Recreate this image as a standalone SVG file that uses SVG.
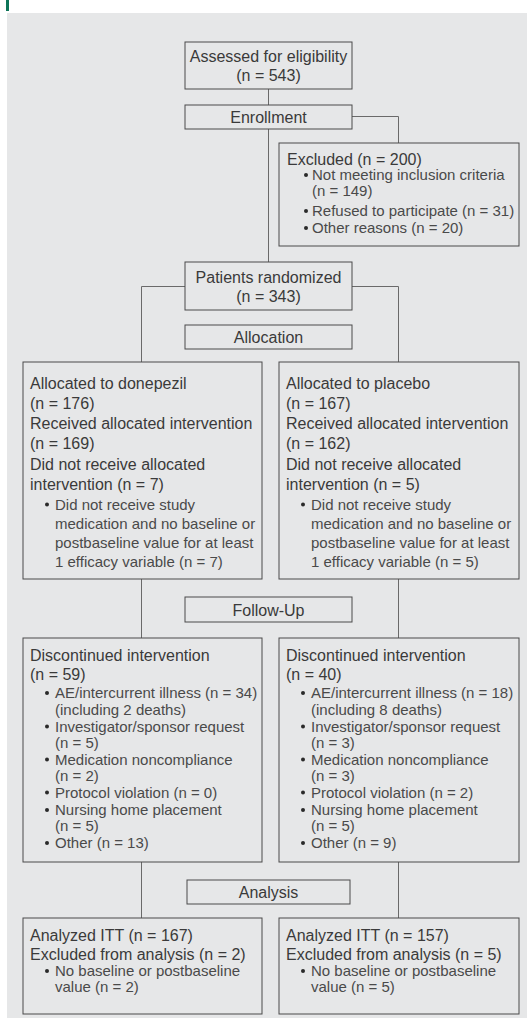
<svg xmlns="http://www.w3.org/2000/svg" width="527" height="1020" viewBox="0 0 527 1020">
<style>
  .box { fill: #e6e7e8; stroke: #4a4a4a; stroke-width: 1; }
  .conn { fill: none; stroke: #6a6a6a; stroke-width: 1; }
  text { font-family: "Liberation Sans", Arial, sans-serif; fill: #3a3a3a; }
  .m { font-size: 16px; }
  .c { font-size: 16px; text-anchor: middle; }
  .b { font-size: 15px; fill: #4a4a4a; }
  .dot { fill: #2a2a2a; }
</style>
<rect x="0" y="0" width="527" height="1020" fill="#ffffff"/>
<rect x="6" y="0" width="3" height="11" fill="#0d7458"/>
<rect x="7" y="13" width="520" height="1005" fill="#e6e7e8"/>

<g id="connectors">
  <line class="conn" x1="268.5" y1="89" x2="268.5" y2="105"/>
  <line class="conn" x1="268.5" y1="129" x2="268.5" y2="262"/>
  <polyline class="conn" points="352,116.5 398.5,116.5 398.5,143"/>
  <polyline class="conn" points="185,286.5 141.5,286.5 141.5,362"/>
  <polyline class="conn" points="352,286.5 398.5,286.5 398.5,362"/>
  <line class="conn" x1="141.5" y1="579" x2="141.5" y2="638"/>
  <line class="conn" x1="398.5" y1="579" x2="398.5" y2="638"/>
  <line class="conn" x1="141.5" y1="862" x2="141.5" y2="918"/>
  <line class="conn" x1="398.5" y1="862" x2="398.5" y2="918"/>
</g>

<g id="assessed">
  <rect class="box" x="185" y="42" width="167" height="47"/>
  <text class="c" x="268.5" y="62">Assessed for eligibility</text>
  <text class="c" x="268.5" y="81">(n = 543)</text>
</g>

<g id="enrollment">
  <rect class="box" x="185" y="105" width="167" height="24"/>
  <text class="c" x="268.5" y="123">Enrollment</text>
</g>

<g id="excluded">
  <rect class="box" x="279" y="143" width="240" height="103"/>
  <text class="m" x="287" y="165">Excluded (n = 200)</text>
  <circle class="dot" cx="306" cy="175" r="2"/>
  <text class="b" x="312" y="180">Not meeting inclusion criteria</text>
  <text class="b" x="312" y="196">(n = 149)</text>
  <circle class="dot" cx="306" cy="211" r="2"/>
  <text class="b" x="312" y="216">Refused to participate (n = 31)</text>
  <circle class="dot" cx="306" cy="228" r="2"/>
  <text class="b" x="312" y="233">Other reasons (n = 20)</text>
</g>

<g id="randomized">
  <rect class="box" x="185" y="262" width="167" height="48"/>
  <text class="c" x="268.5" y="283">Patients randomized</text>
  <text class="c" x="268.5" y="302">(n = 343)</text>
</g>

<g id="allocation">
  <rect class="box" x="185" y="325" width="167" height="24"/>
  <text class="c" x="268.5" y="343">Allocation</text>
</g>

<g id="alloc-donepezil">
  <rect class="box" x="23" y="362" width="239" height="217"/>
  <text class="m" x="30" y="389">Allocated to donepezil</text>
  <text class="m" x="30" y="409">(n = 176)</text>
  <text class="m" x="30" y="429">Received allocated intervention</text>
  <text class="m" x="30" y="449">(n = 169)</text>
  <text class="m" x="30" y="469.5">Did not receive allocated</text>
  <text class="m" x="30" y="489.5">intervention (n = 7)</text>
  <circle class="dot" cx="47" cy="504.5" r="2"/>
  <text class="b" x="55" y="509.5">Did not receive study</text>
  <text class="b" x="55" y="529">medication and no baseline or</text>
  <text class="b" x="55" y="548">postbaseline value for at least</text>
  <text class="b" x="55" y="567">1 efficacy variable (n = 7)</text>
</g>

<g id="alloc-placebo">
  <rect class="box" x="279" y="362" width="240" height="217"/>
  <text class="m" x="286" y="389">Allocated to placebo</text>
  <text class="m" x="286" y="409">(n = 167)</text>
  <text class="m" x="286" y="429">Received allocated intervention</text>
  <text class="m" x="286" y="449">(n = 162)</text>
  <text class="m" x="286" y="469.5">Did not receive allocated</text>
  <text class="m" x="286" y="489.5">intervention (n = 5)</text>
  <circle class="dot" cx="303" cy="504.5" r="2"/>
  <text class="b" x="311" y="509.5">Did not receive study</text>
  <text class="b" x="311" y="529">medication and no baseline or</text>
  <text class="b" x="311" y="548">postbaseline value for at least</text>
  <text class="b" x="311" y="567">1 efficacy variable (n = 5)</text>
</g>

<g id="followup">
  <rect class="box" x="185" y="597" width="167" height="25"/>
  <text class="c" x="268.5" y="615.5">Follow-Up</text>
</g>

<g id="disc-donepezil">
  <rect class="box" x="23" y="638" width="239" height="224"/>
  <text class="m" x="30" y="661">Discontinued intervention</text>
  <text class="m" x="30" y="680">(n = 59)</text>
  <circle class="dot" cx="47" cy="693" r="2"/>
  <text class="b" x="55" y="698">AE/intercurrent illness (n = 34)</text>
  <text class="b" x="55" y="714.5">(including 2 deaths)</text>
  <circle class="dot" cx="47" cy="726.5" r="2"/>
  <text class="b" x="55" y="731.5">Investigator/sponsor request</text>
  <text class="b" x="55" y="747.5">(n = 5)</text>
  <circle class="dot" cx="47" cy="759.5" r="2"/>
  <text class="b" x="55" y="764.5">Medication noncompliance</text>
  <text class="b" x="55" y="780.5">(n = 2)</text>
  <circle class="dot" cx="47" cy="792.5" r="2"/>
  <text class="b" x="55" y="797.5">Protocol violation (n = 0)</text>
  <circle class="dot" cx="47" cy="810" r="2"/>
  <text class="b" x="55" y="815">Nursing home placement</text>
  <text class="b" x="55" y="831">(n = 5)</text>
  <circle class="dot" cx="47" cy="843" r="2"/>
  <text class="b" x="55" y="848">Other (n = 13)</text>
</g>

<g id="disc-placebo">
  <rect class="box" x="279" y="638" width="240" height="224"/>
  <text class="m" x="286" y="661">Discontinued intervention</text>
  <text class="m" x="286" y="680">(n = 40)</text>
  <circle class="dot" cx="303" cy="693" r="2"/>
  <text class="b" x="311" y="698">AE/intercurrent illness (n = 18)</text>
  <text class="b" x="311" y="714.5">(including 8 deaths)</text>
  <circle class="dot" cx="303" cy="726.5" r="2"/>
  <text class="b" x="311" y="731.5">Investigator/sponsor request</text>
  <text class="b" x="311" y="747.5">(n = 3)</text>
  <circle class="dot" cx="303" cy="759.5" r="2"/>
  <text class="b" x="311" y="764.5">Medication noncompliance</text>
  <text class="b" x="311" y="780.5">(n = 3)</text>
  <circle class="dot" cx="303" cy="792.5" r="2"/>
  <text class="b" x="311" y="797.5">Protocol violation (n = 2)</text>
  <circle class="dot" cx="303" cy="810" r="2"/>
  <text class="b" x="311" y="815">Nursing home placement</text>
  <text class="b" x="311" y="831">(n = 5)</text>
  <circle class="dot" cx="303" cy="843" r="2"/>
  <text class="b" x="311" y="848">Other (n = 9)</text>
</g>

<g id="analysis">
  <rect class="box" x="187" y="880" width="163" height="24"/>
  <text class="c" x="268.5" y="898">Analysis</text>
</g>

<g id="anal-donepezil">
  <rect class="box" x="23" y="918" width="239" height="96"/>
  <text class="m" x="30" y="941">Analyzed ITT (n = 167)</text>
  <text class="m" x="30" y="960">Excluded from analysis (n = 2)</text>
  <circle class="dot" cx="47" cy="971" r="2"/>
  <text class="b" x="55" y="976">No baseline or postbaseline</text>
  <text class="b" x="55" y="992">value (n = 2)</text>
</g>

<g id="anal-placebo">
  <rect class="box" x="279" y="918" width="240" height="96"/>
  <text class="m" x="286" y="941">Analyzed ITT (n = 157)</text>
  <text class="m" x="286" y="960">Excluded from analysis (n = 5)</text>
  <circle class="dot" cx="303" cy="971" r="2"/>
  <text class="b" x="311" y="976">No baseline or postbaseline</text>
  <text class="b" x="311" y="992">value (n = 5)</text>
</g>
</svg>
